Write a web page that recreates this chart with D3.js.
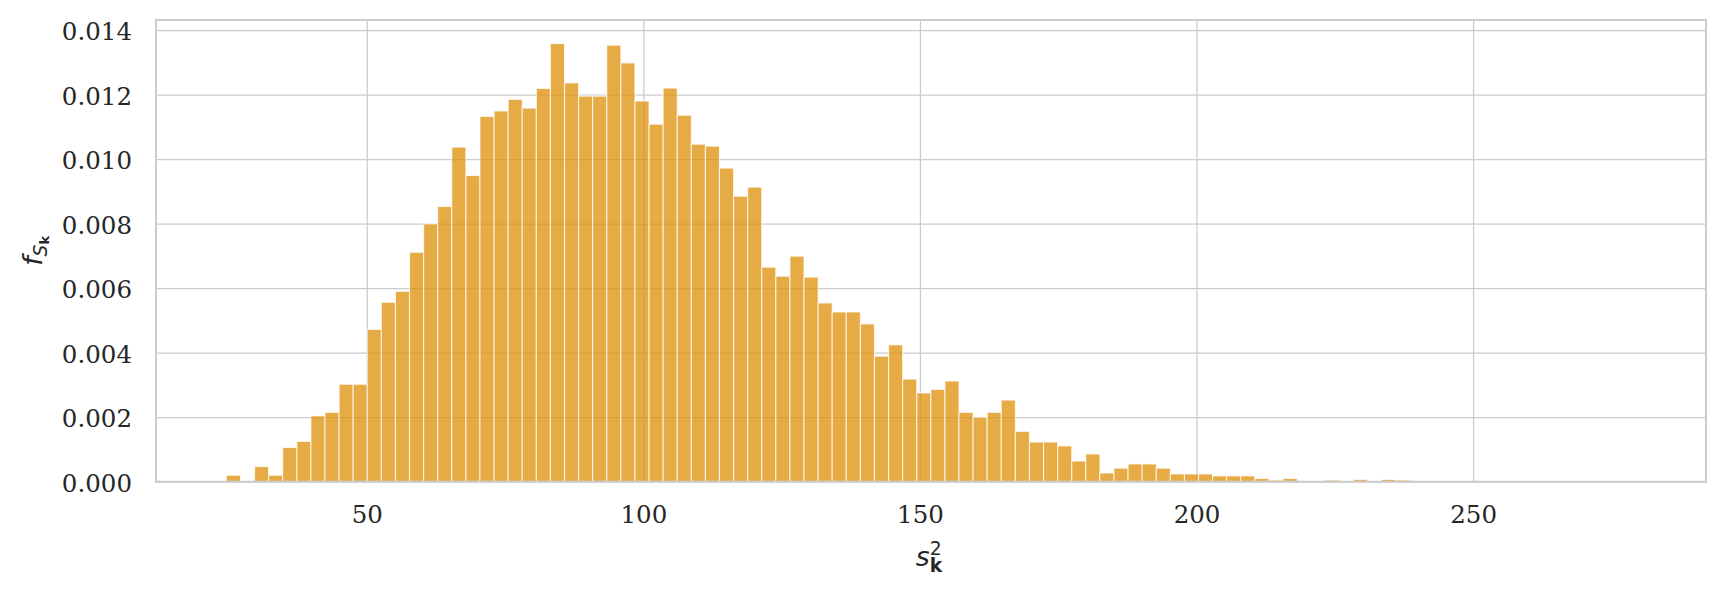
<!DOCTYPE html>
<html><head><meta charset="utf-8">
<script src="https://cdn.jsdelivr.net/npm/d3@7"></script>
<style>body{margin:0;background:#fff;} svg{display:block}</style>
</head><body><svg id="c" width="1725" height="595"></svg>
<script>
// Histogram: bins start and width (data units)
const binStart = 24.62;
const binWidth = 2.547;
// Density per bin
const densities = [
  0.0002, 0, 0.00047, 0.0002, 0.00106, 0.00125, 0.00204, 0.00215, 0.00302, 0.00302,
  0.00472, 0.00556, 0.0059, 0.00711, 0.00799, 0.00853, 0.01037, 0.00949, 0.01132, 0.01149,
  0.01185, 0.01158, 0.01219, 0.01358, 0.01236, 0.01195, 0.01195, 0.01353, 0.01298, 0.0118,
  0.01108, 0.0122, 0.01136, 0.01046, 0.0104, 0.00972, 0.00885, 0.00913, 0.00665, 0.00637,
  0.00699, 0.00634, 0.00554, 0.00526, 0.00526, 0.00489, 0.00389, 0.00424, 0.00318, 0.00275,
  0.00286, 0.00312, 0.00215, 0.002, 0.00215, 0.00253, 0.00156, 0.00123, 0.00123, 0.00111,
  0.00064, 0.00086, 0.00027, 0.00042, 0.00055, 0.00055, 0.00042, 0.00024, 0.00024, 0.00024,
  0.00018, 0.00018, 0.00018, 0.0001, 0.00005, 0.0001, 0, 0, 0.00005, 0,
  0.00007, 0, 0.00007, 0.00005
];
const xTicks = [50, 100, 150, 200, 250];
const yTicks = [0, 0.002, 0.004, 0.006, 0.008, 0.010, 0.012, 0.014];
const yTickLabels = ["0.000", "0.002", "0.004", "0.006", "0.008", "0.010", "0.012", "0.014"];
const xDomain = [11.9, 292.1];
const yDomain = [0, 0.01431];

(function () {
const pLeft = 156, pRight = 1706, pTop = 20, pBottom = 481.7;
const textColor = "#262626";
const gridColor = "#cccccc";
const barColor = "#DE8F05";

const svg = d3.select("#c");
const x = d3.scaleLinear().domain(xDomain).range([pLeft, pRight]);
const y = d3.scaleLinear().domain(yDomain).range([pBottom, pTop]);

// X axis with gridlines
const gx = svg.append("g").attr("transform", `translate(0,${pBottom})`)
  .call(d3.axisBottom(x).tickValues(xTicks).tickFormat(d3.format("d"))
        .tickSizeInner(-(pBottom - pTop)).tickSizeOuter(0).tickPadding(0));
gx.select(".domain").remove();
gx.selectAll(".tick line").attr("stroke", gridColor).attr("stroke-width", 1.25);
gx.selectAll(".tick text").attr("y", 41).attr("dy", null)
  .attr("fill", textColor).style("font-family", "'DejaVu Serif'").style("font-size", "24.5px");

// Y axis with gridlines
const gy = svg.append("g").attr("transform", `translate(${pLeft},0)`)
  .call(d3.axisLeft(y).tickValues(yTicks).tickFormat((d, i) => yTickLabels[i])
        .tickSizeInner(-(pRight - pLeft)).tickSizeOuter(0).tickPadding(24));
gy.select(".domain").remove();
gy.selectAll(".tick line").attr("stroke", gridColor).attr("stroke-width", 1.25);
gy.selectAll(".tick text").attr("dy", "0.39em")
  .attr("fill", textColor).style("font-family", "'DejaVu Serif'").style("font-size", "24.5px");

// Bars
const bw = x(binWidth) - x(0);
svg.append("g").selectAll("rect").data(densities).join("rect")
  .attr("x", (d, i) => x(binStart + i * binWidth))
  .attr("width", bw)
  .attr("y", d => y(d))
  .attr("height", d => pBottom - y(d))
  .attr("fill", barColor).attr("fill-opacity", 0.75)
  .attr("stroke", "#ffffff").attr("stroke-opacity", 0.75).attr("stroke-width", 1.1);

// Spines
svg.append("rect").attr("x", pLeft).attr("y", pTop)
  .attr("width", pRight - pLeft).attr("height", pBottom - pTop)
  .attr("fill", "none").attr("stroke", gridColor).attr("stroke-width", 2);

// X label: s^2_k
const xl = svg.append("text").attr("x", (pLeft + pRight) / 2 - 2).attr("y", 566)
  .attr("text-anchor", "middle").attr("fill", textColor)
  .style("font-family", "'DejaVu Sans'");
xl.append("tspan").text("s").style("font-style", "italic").style("font-size", "26.7px");
xl.append("tspan").text("2").style("font-size", "18.7px").attr("dy", -11);
xl.append("tspan").text("k").style("font-weight", "bold").style("font-size", "18.7px")
  .attr("dx", -11.9).attr("dy", 17);

// Y label: f_{S_k}
const yl = svg.append("text").attr("transform", `translate(41.5,${(pTop + pBottom) / 2}) rotate(-90)`)
  .attr("text-anchor", "middle").attr("fill", textColor)
  .style("font-family", "'DejaVu Sans'");
yl.append("tspan").text("f").style("font-style", "italic").style("font-size", "26.7px");
yl.append("tspan").text("S").style("font-style", "italic").style("font-size", "18.7px").attr("dy", 5);
yl.append("tspan").text("k").style("font-weight", "bold").style("font-size", "13.1px").attr("dy", 2.5);
})();
</script>
</body></html>
